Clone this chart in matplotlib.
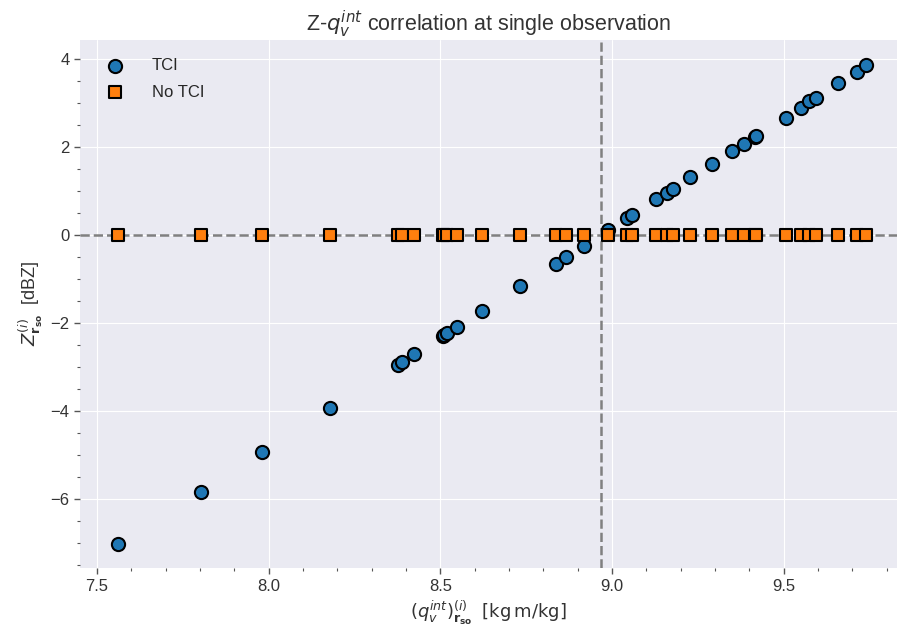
import matplotlib
matplotlib.use("Agg")
import matplotlib.pyplot as plt

# integrated humidity at the observation point and the TCI reflectivity response
q_int = [7.561, 7.802, 7.981, 8.179, 8.376, 8.388, 8.423, 8.506, 8.511, 8.520,
         8.547, 8.622, 8.733, 8.837, 8.866, 8.917, 8.988, 9.044, 9.057, 9.129,
         9.160, 9.176, 9.228, 9.290, 9.350, 9.383, 9.415, 9.420, 9.505, 9.549,
         9.572, 9.593, 9.659, 9.712, 9.740]
z_tci = [-7.03, -5.83, -4.93, -3.94, -2.96, -2.89, -2.71, -2.30, -2.28, -2.24,
         -2.10, -1.74, -1.17, -0.66, -0.51, -0.26, 0.10, 0.39, 0.46, 0.81,
         0.94, 1.05, 1.32, 1.62, 1.90, 2.06, 2.23, 2.25, 2.66, 2.88,
         3.03, 3.11, 3.44, 3.70, 3.85]
z_notci = [0.0] * len(q_int)
q_threshold = 8.969

plt.style.use("seaborn-v0_8-darkgrid")
plt.rcParams['font.family'] = ['Liberation Sans', 'DejaVu Sans']
plt.rcParams['mathtext.fontset'] = 'dejavusans'

fig, ax = plt.subplots(figsize=(8.98, 6.32), dpi=100)
fig.subplots_adjust(left=0.089, right=0.999, top=0.937, bottom=0.101)

ax.axhline(0, color="gray", ls="--", lw=1.8, zorder=1)
ax.axvline(q_threshold, color="gray", ls="--", lw=1.8, zorder=1)

ax.scatter(q_int, z_tci, s=90, c="#1f77b4", edgecolors="black", linewidths=1.5,
           marker="o", label="TCI", zorder=3)
ax.scatter(q_int, z_notci, s=85, c="#ff7f0e", edgecolors="black", linewidths=1.5,
           marker="s", label="No TCI", zorder=4)

ax.set_xlim(7.45, 9.83)
ax.set_ylim(-7.57, 4.43)
ax.minorticks_on()
ax.grid(which="minor", visible=False)
ax.tick_params(which="major", length=4, width=1, color="#555555", labelsize=12,
               labelcolor="#333333", direction="out")
ax.tick_params(which="minor", length=2, width=0.8, color="#555555", direction="out")
ax.tick_params(axis="x", which="both", bottom=True)
ax.tick_params(axis="y", which="both", left=True)

ax.set_title(r"Z-$q_v^{int}$ correlation at single observation", fontsize=15.5,
             color="#333333")
ax.set_xlabel(r"$(q_v^{int})^{(i)}_{\mathbf{r_{so}}}$  $[\mathrm{kg\,m/kg}]$",
              fontsize=13, color="#333333")
ax.set_ylabel(r"$Z^{(i)}_{\mathbf{r_{so}}}$  [dBZ]", fontsize=13, color="#333333")

ax.legend(loc="upper left", fontsize=12, frameon=False, borderpad=0.6,
          labelspacing=0.7, handletextpad=1.2)

fig.savefig("out.png", dpi=100)
